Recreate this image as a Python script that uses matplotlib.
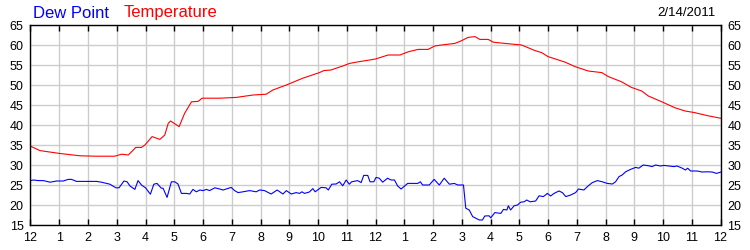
import matplotlib
matplotlib.use("Agg")
import matplotlib.pyplot as plt

plt.rcParams['font.family'] = ['Liberation Sans', 'DejaVu Sans']

# hours since midnight and readings
temp_hours = [0, 0.33, 1.0, 1.72, 2.3, 2.93, 3.17, 3.4, 3.57, 3.66, 3.86, 3.98,
              4.23, 4.5, 4.67, 4.79, 4.87, 5.17, 5.36, 5.6, 5.83, 5.97, 6.58, 7.16,
              7.74, 8.2, 8.43, 8.9, 9.47, 10.05, 10.2, 10.45, 10.86, 11.1, 11.4, 11.8,
              12.0, 12.44, 12.85, 13.14, 13.48, 13.83, 14.06, 14.3, 14.76, 15.0, 15.22, 15.46,
              15.63, 15.92, 16.1, 16.5, 17.08, 17.55, 17.78, 18.0, 18.3, 18.6, 18.94, 19.4,
              19.87, 20.1, 20.56, 20.9, 21.26, 21.49, 21.96, 22.42, 22.77, 23.1, 23.57, 24.0]
temp_values = [34.7, 33.6, 32.9, 32.3, 32.2, 32.2, 32.7, 32.5, 33.7, 34.4, 34.4, 35.0,
               37.1, 36.4, 37.5, 40.4, 41.0, 39.6, 42.9, 45.8, 45.9, 46.7, 46.7, 46.9,
               47.5, 47.7, 48.75, 50.0, 51.7, 53.1, 53.6, 53.75, 54.75, 55.4, 55.8, 56.25,
               56.5, 57.5, 57.5, 58.3, 58.9, 58.9, 59.75, 60.0, 60.4, 61.1, 61.9, 62.1,
               61.4, 61.4, 60.7, 60.4, 60.0, 58.6, 58.1, 57.1, 56.4, 55.7, 54.6, 53.5,
               53.1, 52.1, 50.8, 49.4, 48.5, 47.25, 45.8, 44.3, 43.5, 43.1, 42.3, 41.7]

dew_hours = [0.0, 0.1, 0.27, 0.45, 0.68, 0.91, 1.14, 1.31, 1.43, 1.6, 2.3, 2.47,
             2.76, 2.97, 3.08, 3.25, 3.36, 3.46, 3.63, 3.74, 3.86, 4.0, 4.17, 4.29,
             4.4, 4.55, 4.61, 4.75, 4.9, 5.02, 5.13, 5.25, 5.42, 5.54, 5.65, 5.77,
             5.89, 6.0, 6.12, 6.23, 6.41, 6.58, 6.7, 6.81, 6.98, 7.1, 7.22, 7.39,
             7.62, 7.85, 7.97, 8.14, 8.37, 8.58, 8.78, 8.9, 9.07, 9.24, 9.36, 9.44,
             9.53, 9.7, 9.82, 9.9, 10.11, 10.28, 10.36, 10.48, 10.63, 10.75, 10.86, 10.98,
             11.09, 11.17, 11.38, 11.5, 11.59, 11.73, 11.81, 11.94, 12.02, 12.13, 12.25, 12.42,
             12.54, 12.66, 12.77, 12.89, 13.12, 13.47, 13.56, 13.64, 13.87, 14.04, 14.22, 14.39,
             14.57, 14.74, 14.86, 15.06, 15.14, 15.26, 15.38, 15.49, 15.61, 15.72, 15.8, 15.95,
             16.01, 16.15, 16.36, 16.45, 16.57, 16.62, 16.7, 16.82, 16.94, 17.05, 17.17, 17.26,
             17.38, 17.57, 17.69, 17.84, 17.98, 18.09, 18.21, 18.38, 18.5, 18.62, 18.79, 18.96,
             19.06, 19.25, 19.37, 19.54, 19.72, 19.89, 20.06, 20.24, 20.35, 20.47, 20.58, 20.7,
             20.87, 21.05, 21.16, 21.31, 21.51, 21.62, 21.74, 21.91, 22.03, 22.2, 22.38, 22.49,
             22.67, 22.78, 22.86, 22.96, 23.19, 23.36, 23.53, 23.71, 23.86, 24.0]
dew_values = [26.1, 26.25, 26.1, 26.1, 25.7, 26.0, 26.0, 26.4, 26.4, 25.9, 25.9, 25.7,
              25.2, 24.3, 24.3, 26.0, 25.8, 24.75, 23.9, 26.1, 25.0, 24.3, 22.7, 25.2,
              25.4, 24.2, 24.2, 21.9, 25.8, 25.8, 25.25, 22.9, 22.9, 22.75, 23.9, 23.3,
              23.75, 23.6, 23.9, 23.6, 24.3, 24.0, 23.75, 24.0, 24.4, 23.6, 23.1, 23.3,
              23.6, 23.3, 23.75, 23.6, 22.75, 23.75, 22.75, 23.6, 22.75, 23.1, 22.9, 23.3,
              22.9, 23.25, 24.1, 23.3, 24.4, 24.3, 23.75, 25.2, 25.25, 25.8, 24.8, 26.25,
              25.2, 25.8, 26.1, 25.6, 27.4, 27.4, 25.8, 25.8, 26.9, 26.7, 25.7, 26.7,
              26.25, 26.25, 24.75, 24.0, 25.4, 25.4, 25.8, 25.0, 25.0, 26.4, 25.0, 26.7,
              25.2, 25.4, 25.0, 25.0, 19.2, 18.75, 17.1, 16.7, 16.25, 16.25, 17.25, 17.3,
              16.8, 18.1, 17.9, 18.9, 18.75, 19.8, 18.75, 19.8, 20.0, 20.7, 20.8, 21.25,
              20.8, 21.0, 22.3, 22.1, 22.9, 22.25, 22.9, 23.5, 23.1, 22.1, 22.5, 23.1,
              24.0, 23.75, 24.6, 25.6, 26.1, 25.8, 25.4, 25.25, 25.8, 27.1, 27.5, 28.3,
              28.9, 29.4, 29.2, 30.0, 29.8, 29.6, 30.0, 29.75, 29.9, 29.75, 29.6, 29.75,
              29.2, 28.75, 29.2, 28.5, 28.5, 28.25, 28.3, 28.25, 27.9, 28.2]

hour_ticks = list(range(25))
hour_labels = ['12'] + [str(h) for h in range(1, 12)] + ['12'] + [str(h) for h in range(1, 12)] + ['12']
y_ticks = list(range(15, 70, 5))

fig = plt.figure(figsize=(7.5, 2.5), dpi=100)
ax = fig.add_axes([30.5 / 750, 25 / 250, 690 / 750, 200 / 250])

ax.plot(temp_hours, temp_values, color='#ff0000', linewidth=0.8)
ax.plot(dew_hours, dew_values, color='#0000ff', linewidth=0.8)

ax.set_xlim(0, 24)
ax.set_ylim(15, 65)
ax.set_xticks(hour_ticks)
ax.set_xticklabels(hour_labels)
ax.set_yticks(y_ticks)
ax.grid(True, color='#cccccc', linewidth=1.0)
ax.set_axisbelow(True)

ax.tick_params(axis='x', direction='in', top=True, bottom=True, length=4, width=1,
               labelsize=9, pad=5)
ax.tick_params(axis='y', length=0, left=True, right=True, labelleft=True, labelright=True,
               labelsize=9, pad=5)
for s in ax.spines.values():
    s.set_linewidth(1)

fig.text(33 / 750, 1 - 13 / 250, 'Dew Point', color='#0000ff', fontsize=12, va='center')
fig.text(124 / 750, 1 - 13 / 250, 'Temperature', color='#ff0000', fontsize=12, va='center')
fig.text(716 / 750, 1 - 13 / 250, '2/14/2011', color='black', fontsize=9.5,
         va='center', ha='right')

fig.savefig('out.png', dpi=100)
